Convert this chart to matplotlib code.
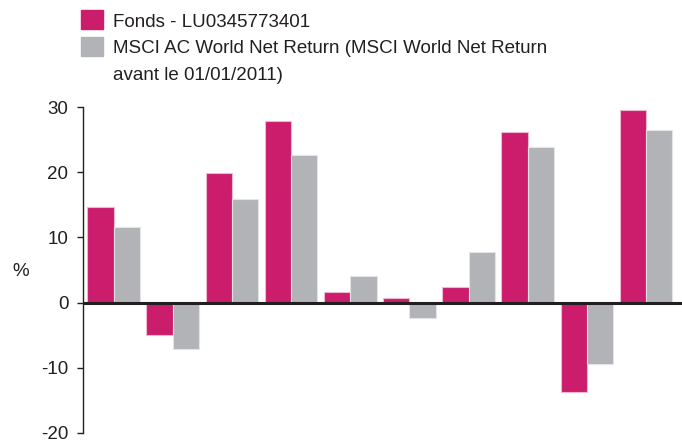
import numpy as np
import matplotlib.pyplot as plt
from matplotlib.patches import Rectangle

# performances annuelles (%)
fonds = [14.7, -5.0, 19.9, 27.9, 1.6, 0.7, 2.4, 26.2, -13.8, 29.6]
indice = [11.6, -7.2, 15.9, 22.7, 4.1, -2.4, 7.7, 23.9, -9.5, 26.5]
yticks = [-20, -10, 0, 10, 20, 30]

lab_fonds = "Fonds - LU0345773401"
lab_indice = ["MSCI AC World Net Return (MSCI World Net Return", "avant le 01/01/2011)"]

c_fonds = "#cc1c6c"
c_indice = "#b2b3b6"
c_txt = "#231f20"

plt.rcParams['font.family'] = ['Liberation Sans', 'DejaVu Sans']

fig = plt.figure(figsize=(6.82, 4.41), dpi=100)
ax = fig.add_axes([83 / 682, 1 - 432.7 / 441, 1 - 83 / 682, (432.7 - 107.3) / 441])

x = np.arange(len(fonds))
w = 0.445
ax.bar(x - w / 2, fonds, w, color=c_fonds, edgecolor="#f0b8d0", linewidth=0.8)
ax.bar(x + w / 2, indice, w, color=c_indice, edgecolor="#e4e4e6", linewidth=0.8)

ax.set_xlim(-0.518, 9.609)
ax.set_ylim(-20, 30)
ax.set_yticks(yticks)
ax.set_yticklabels([str(t) for t in yticks], fontsize=13.5, color=c_txt)
ax.set_xticks([])
ax.tick_params(axis="y", length=4, width=1, color=c_txt, pad=6.5)

for s in ["top", "right", "bottom"]:
    ax.spines[s].set_visible(False)
ax.spines["left"].set_color(c_txt)
ax.spines["left"].set_linewidth(1)
ax.axhline(0, color=c_txt, linewidth=2.2, zorder=3)

fig.text(21 / 682, 1 - 271 / 441, "%", fontsize=13.5, ha="center", va="center", color=c_txt)

# légende manuelle
fig.patches.append(Rectangle((81 / 682, 1 - 29 / 441), 22 / 682, 19 / 441,
                             transform=fig.transFigure, color=c_fonds, figure=fig))
fig.patches.append(Rectangle((81 / 682, 1 - 56 / 441), 22 / 682, 19 / 441,
                             transform=fig.transFigure, color=c_indice, figure=fig))
fig.text(113 / 682, 1 - 26.7 / 441, lab_fonds, fontsize=13.5, va="baseline", color=c_txt)
for k, ligne in enumerate(lab_indice):
    fig.text(113 / 682, 1 - (53.4 + 26.7 * k) / 441, ligne, fontsize=13.5,
             va="baseline", color=c_txt)

fig.savefig("out.png", dpi=100)
